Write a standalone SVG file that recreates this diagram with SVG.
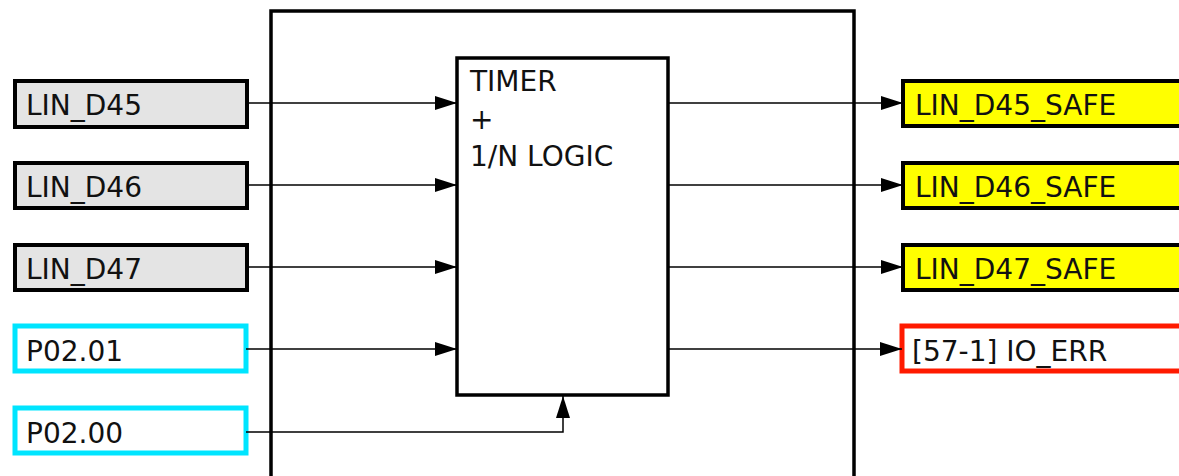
<svg xmlns="http://www.w3.org/2000/svg" width="1179" height="476" viewBox="0 0 1179 476">
<defs>
<marker id="arr" markerWidth="22" markerHeight="14" refX="22" refY="7" orient="auto" markerUnits="userSpaceOnUse">
<path d="M0,0 L22,7 L0,14 Z" fill="#000"/>
</marker>
<style>
text{font-family:"DejaVu Sans","Liberation Sans",sans-serif;font-size:28px;fill:#111}
.gray{fill:#e4e4e4;stroke:#000;stroke-width:4}
.cyan{fill:#fff;stroke:#00e5ff;stroke-width:5}
.yel{fill:#ffff00;stroke:#000;stroke-width:4}
.red{fill:#fff;stroke:#ff1a00;stroke-width:5}
.blk{fill:none;stroke:#000;stroke-width:3.5}
.conn path{fill:none;stroke:#000;stroke-width:1.5;marker-end:url(#arr)}
</style>
</defs>
<rect width="1179" height="476" fill="#fff"/>
<g id="outer"><path class="blk" d="M271,480 V11 H854 V480"/></g>
<g id="logic"><rect class="blk" x="457" y="58" width="211" height="337"/>
<text x="470" y="91">TIMER</text><text x="470" y="129">+</text><text x="470" y="166">1/N LOGIC</text></g>
<g id="in45"><rect class="gray" x="15" y="81" width="232" height="46"/><text x="26" y="115">LIN_D45</text></g>
<g id="in46"><rect class="gray" x="15" y="163" width="232" height="45"/><text x="26" y="197">LIN_D46</text></g>
<g id="in47"><rect class="gray" x="15" y="245" width="232" height="45"/><text x="26" y="279">LIN_D47</text></g>
<g id="p0201"><rect class="cyan" x="15" y="326" width="231" height="45"/><text x="26" y="361">P02.01</text></g>
<g id="p0200"><rect class="cyan" x="15" y="408" width="231" height="45"/><text x="26" y="443">P02.00</text></g>
<g id="out45"><rect class="yel" x="903" y="81" width="290" height="45"/><text x="915" y="115">LIN_D45_SAFE</text></g>
<g id="out46"><rect class="yel" x="903" y="163" width="290" height="45"/><text x="915" y="197">LIN_D46_SAFE</text></g>
<g id="out47"><rect class="yel" x="903" y="245" width="290" height="45"/><text x="915" y="279">LIN_D47_SAFE</text></g>
<g id="ioerr"><rect class="red" x="902" y="326" width="290" height="45"/><text x="912" y="361">[57-1] IO_ERR</text></g>
<g id="connectors" class="conn">
<path d="M247,103 H457"/>
<path d="M247,185 H457"/>
<path d="M247,267 H457"/>
<path d="M246,349 H457"/>
<path d="M246,432 H563 V396"/>
<path d="M668,103 H903"/>
<path d="M668,185 H903"/>
<path d="M668,267 H903"/>
<path d="M668,349 H902"/>
</g>
</svg>
